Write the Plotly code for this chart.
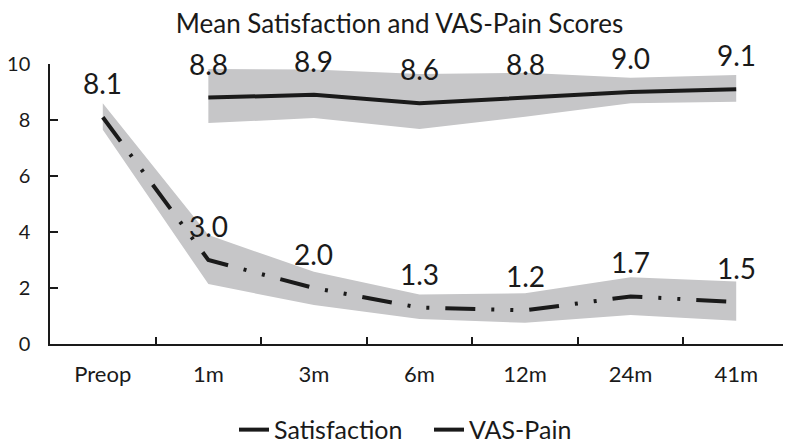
import plotly.graph_objects as go

categories = ["Preop", "1m", "3m", "6m", "12m", "24m", "41m"]
sat_cats = ["1m", "3m", "6m", "12m", "24m", "41m"]
sat_mean = [8.8, 8.9, 8.6, 8.8, 9.0, 9.1]
sat_upper = [9.82, 9.80, 9.64, 9.69, 9.51, 9.61]
sat_lower = [7.89, 8.07, 7.68, 8.12, 8.60, 8.65]
pain_mean = [8.1, 3.0, 2.0, 1.3, 1.2, 1.7, 1.5]
pain_upper = [8.60, 3.89, 2.58, 1.77, 1.81, 2.38, 2.23]
pain_lower = [7.65, 2.14, 1.39, 0.89, 0.76, 1.04, 0.83]
y_ticks = [0, 2, 4, 6, 8, 10]

FONT = "Lato"
BAND = "#c6c6c8"
INK = "#1a1a1a"

fig = go.Figure()

# bands
fig.add_trace(go.Scatter(x=sat_cats, y=sat_lower, mode="lines", line=dict(width=0),
                         showlegend=False, hoverinfo="skip"))
fig.add_trace(go.Scatter(x=sat_cats, y=sat_upper, mode="lines", line=dict(width=0),
                         fill="tonexty", fillcolor=BAND, showlegend=False, hoverinfo="skip"))
fig.add_trace(go.Scatter(x=categories, y=pain_lower, mode="lines", line=dict(width=0),
                         showlegend=False, hoverinfo="skip"))
fig.add_trace(go.Scatter(x=categories, y=pain_upper, mode="lines", line=dict(width=0),
                         fill="tonexty", fillcolor=BAND, showlegend=False, hoverinfo="skip"))

# lines
fig.add_trace(go.Scatter(x=sat_cats, y=sat_mean, mode="lines", name="Satisfaction",
                         line=dict(color=INK, width=4)))
fig.add_trace(go.Scatter(x=categories, y=pain_mean, mode="lines", name="VAS-Pain",
                         line=dict(color=INK, width=4, dash="30px,16px,3px,16px,3px,16px")))

# data labels
for c, v in zip(sat_cats, sat_mean):
    fig.add_annotation(x=c, y=v, text=f"{v:.1f}", showarrow=False, yshift=34,
                       font=dict(family=FONT, size=28, color=INK))
for c, v in zip(categories, pain_mean):
    fig.add_annotation(x=c, y=v, text=f"{v:.1f}", showarrow=False, yshift=34,
                       font=dict(family=FONT, size=28, color=INK))

# the page adds an 8px body margin, so the figure is 8px smaller and shifted
fig.update_layout(
    width=783, height=439,
    margin=dict(l=42, r=2, t=56, b=103, autoexpand=False),
    paper_bgcolor="white", plot_bgcolor="white",
    font=dict(family=FONT, color=INK),
    title=dict(text="Mean Satisfaction and VAS-Pain Scores", x=0.5, xanchor="center",
               y=0.963, yanchor="middle",
               font=dict(family=FONT, size=26, color=INK)),
    legend=dict(orientation="h", traceorder="normal", x=0.249, xanchor="left",
                yref="container", y=0.039, yanchor="middle", entrywidth=150,
                font=dict(family=FONT, size=25, color=INK),
                bgcolor="rgba(0,0,0,0)"),
    showlegend=True,
)
fig.update_xaxes(type="category", categoryorder="array", categoryarray=categories,
                 range=[-0.5, 6.5], showline=True, linecolor=INK, linewidth=1.5,
                 ticks="inside", ticklen=7, tickwidth=1.5, tickcolor=INK,
                 tickson="boundaries", showgrid=False, zeroline=False,
                 tickfont=dict(family=FONT, size=22, color=INK), ticklabelstandoff=10)
fig.update_yaxes(range=[0, 10], tickvals=y_ticks, showline=True, linecolor=INK, linewidth=1.5,
                 ticks="inside", ticklen=8, tickwidth=1.5, tickcolor=INK,
                 showgrid=False, zeroline=False,
                 tickfont=dict(family=FONT, size=20, color=INK), ticklabelstandoff=14)

fig.write_html("out.html")
